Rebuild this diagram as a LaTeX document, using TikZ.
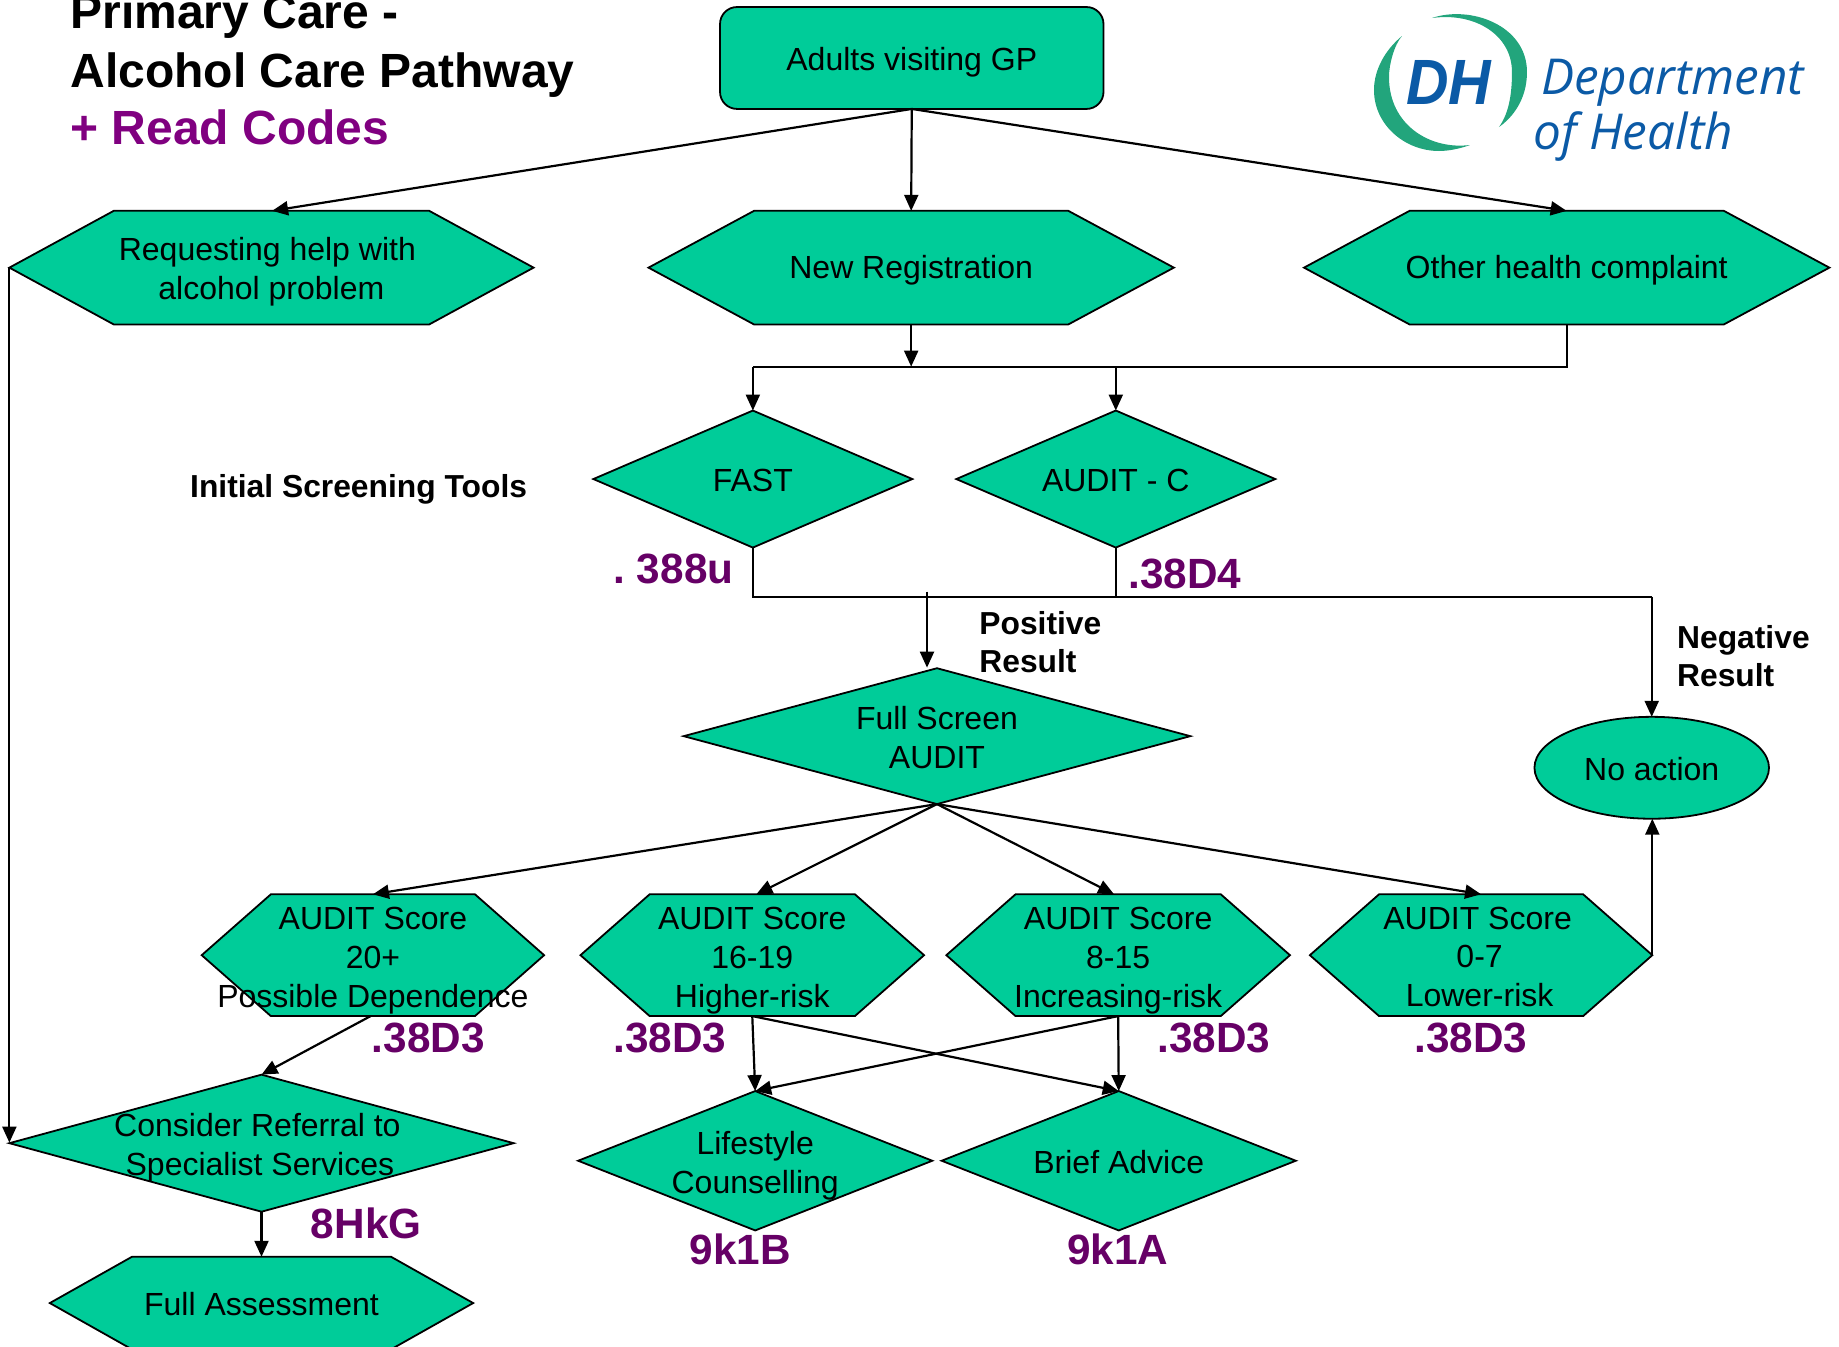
\documentclass[tikz,border=0pt]{standalone}
\usepackage{fontspec}
\setmainfont{Liberation Sans}
\newfontfamily\logofont{Open Sans}
\usetikzlibrary{arrows.meta}
\definecolor{flowgreen}{HTML}{00CC99}
\definecolor{titlepurple}{HTML}{800080}
\definecolor{codepurple}{HTML}{660066}
\definecolor{logogreen}{HTML}{22A57C}
\definecolor{logoblue}{HTML}{0B5AA6}
\tikzset{
  shapeline/.style={draw=black,line width=1.8pt,fill=flowgreen,line join=miter},
  flowtext/.style={font=\fontsize{32}{38.7}\selectfont,align=center,inner sep=0pt},
  boldlabel/.style={font=\fontsize{31.8}{38.7}\selectfont\bfseries,align=left,inner sep=0pt,anchor=base west},
  titletext/.style={font=\fontsize{48}{57}\selectfont\bfseries,inner sep=0pt,anchor=base west},
  codetext/.style={font=\fontsize{42.3}{50}\selectfont\bfseries,text=codepurple,inner sep=0pt,anchor=base west},
  conn/.style={draw=black,line width=2.2pt},
  arrowconn/.style={conn,-{Triangle[length=16pt,width=14pt]}},
}
% name, cx, cy, half width, half height, inset
\newcommand{\hexbox}[6]{%
  \draw[shapeline] ({#2-#4},#3) -- ({#2-#4+#6},{#3-#5}) -- ({#2+#4-#6},{#3-#5}) -- ({#2+#4},#3) -- ({#2+#4-#6},{#3+#5}) -- ({#2-#4+#6},{#3+#5}) -- cycle;
  \coordinate (#1-t) at (#2,{#3-#5});
  \coordinate (#1-b) at (#2,{#3+#5});
  \coordinate (#1-l) at ({#2-#4},#3);
  \coordinate (#1-r) at ({#2+#4},#3);
}
% name, cx, cy, half width, half height
\newcommand{\diabox}[5]{%
  \draw[shapeline] ({#2-#4},#3) -- (#2,{#3-#5}) -- ({#2+#4},#3) -- (#2,{#3+#5}) -- cycle;
  \coordinate (#1-t) at (#2,{#3-#5});
  \coordinate (#1-b) at (#2,{#3+#5});
  \coordinate (#1-l) at ({#2-#4},#3);
  \coordinate (#1-r) at ({#2+#4},#3);
}
\begin{document}
\begin{tikzpicture}[x=1.1727pt,y=-1.1713pt]
\useasboundingbox (0,0) rectangle (1568.2,1150);

% title
\node[titletext] (t1) at (60,24) {Primary Care -};
\node[titletext] (t2) at (60,74.5) {Alcohol Care Pathway};
\node[titletext,text=titlepurple] (t3) at (60,123) {+ Read Codes};

% logo
\begin{scope}[x=1pt,y=-1pt]
\fill[logogreen] (1432,18) .. controls (1470,5) and (1527,25) .. (1527,72) .. controls (1527,100) and (1512,118) .. (1499,127) .. controls (1510,112) and (1512,90) .. (1512,72) .. controls (1512,35) and (1475,12) .. (1432,18) -- cycle;
\fill[logogreen] (1402,36) .. controls (1385,50) and (1374,70) .. (1374,90) .. controls (1374,125) and (1405,151) .. (1439,151) .. controls (1450,151) and (1462,148) .. (1470,145) .. controls (1430,150) and (1389,125) .. (1389,77) .. controls (1389,65) and (1394,45) .. (1402,36) -- cycle;
\node[inner sep=0pt,anchor=base west,text=logoblue,font=\fontsize{64}{64}\selectfont\bfseries\itshape,xscale=.92] (dh) at (1406,104) {DH};
\node[inner sep=0pt,anchor=base west,text=logoblue,font=\fontsize{49.5}{50}\selectfont\logofont\itshape] (dep) at (1541,94) {Department};
\node[inner sep=0pt,anchor=base west,text=logoblue,font=\fontsize{49.5}{50}\selectfont\logofont\itshape] (ofh) at (1533,149) {of Health};
\end{scope}

% shapes
\draw[shapeline,rounded corners=17pt] (614,6) rectangle (941,93);
\coordinate (gp-t) at (777.5,6);
\coordinate (gp-b) at (777.5,93);
\node[flowtext] (gp) at (777.5,53) {Adults visiting GP};

\hexbox{h1}{231.5}{228.5}{223.5}{48.5}{89}
\hexbox{h2}{777}{228.5}{224}{48.5}{90}
\hexbox{h3}{1336}{228.5}{224}{48.5}{90}
\node[flowtext] (h1txt) at (228,232) {Requesting help with\\\hspace*{8pt}alcohol problem};
\node[flowtext] (h2txt) at (777,231) {New Registration};
\node[flowtext] (h3txt) at (1336,231) {Other health complaint};

\diabox{fast}{642}{409}{136}{58.5}
\diabox{ac}{951.5}{409}{136}{58.5}
\node[flowtext] (fasttxt) at (642,410) {FAST};
\node[flowtext] (actxt) at (951.5,410) {AUDIT - C};

\diabox{fs}{799}{628.5}{216}{58}
\node[flowtext] (fstxt) at (799,629.5) {Full Screen\\AUDIT};

\draw[shapeline] (1408.5,655.5) ellipse [x radius=100,y radius=43.5];
\coordinate (na-t) at (1408.5,612);
\coordinate (na-b) at (1408.5,699);
\node[flowtext] (natxt) at (1408.5,657) {No action};

\hexbox{sa}{318}{815.5}{146}{52}{59}
\hexbox{sb}{641.5}{815.5}{146.5}{52}{59}
\hexbox{sc}{953.5}{815.5}{146.5}{52}{59}
\hexbox{sd}{1263}{815.5}{146}{52}{59}
\node[flowtext] (satxt) at (318,820) {AUDIT Score\\20+\\Possible Dependence};
\node[flowtext] (sbtxt) at (641.5,820) {AUDIT Score\\16-19\\Higher-risk};
\node[flowtext] (sctxt) at (953.5,820) {AUDIT Score\\8-15\\Increasing-risk};
\node[flowtext] (sdtxt) at (1260,817) {AUDIT Score\\\hspace*{4pt}0-7\\\hspace*{4pt}Lower-risk};

\diabox{cr}{223}{976}{215}{58.5}
\node[flowtext] (crtxt) at (219.5,980) {Consider Referral to\\\hspace*{5pt}Specialist Services};

\diabox{ls}{644}{991}{151}{59.5}
\diabox{ba}{954}{991}{151}{59.5}
\node[flowtext] (lstxt) at (644,995) {Lifestyle\\Counselling};
\node[flowtext] (batxt) at (954,992) {Brief Advice};

\hexbox{fa}{223}{1112.5}{180.5}{39.5}{70}
\node[flowtext] (fatxt) at (223,1113) {Full Assessment};

% labels
\node[boldlabel] (ist) at (162,424.5) {Initial Screening Tools};
\node[boldlabel] (pos) at (835,574.5) {Positive\\Result};
\node[boldlabel] (neg) at (1430,586.5) {Negative\\Result};

% read codes
\node[codetext] (c388) at (523,498) {.\kern0pt\ 388u};
\node[codetext] (c38d4) at (962,502.5) {.38D4};
\node[codetext] (c1) at (317,898.5) {.38D3};
\node[codetext] (c2) at (523,898.5) {.38D3};
\node[codetext] (c3) at (987,898.5) {.38D3};
\node[codetext] (c4) at (1206,898.5) {.38D3};
\node[codetext] (c8) at (265,1057) {8HkG};
\node[codetext] (c9b) at (588,1079.5) {9k1B};
\node[codetext] (c9a) at (910,1079.5) {9k1A};

% connectors
\coordinate (j1) at (777,313);
\coordinate (jfast) at (642,313.4);
\coordinate (jac) at (951.5,313.4);
\coordinate (j3) at (1336,313.4);
\coordinate (jb1) at (642,509.4);
\coordinate (jb2) at (951.5,509.4);
\coordinate (jb3) at (1408.5,509.4);
\coordinate (jpos) at (790.5,505);
\coordinate (jposend) at (790.5,570);
\coordinate (h1top) at (232,180);
\coordinate (crl) at (8,975.5);

\draw[arrowconn] (gp-b) -- (h1top);
\draw[arrowconn] (gp-b) -- (h2-t);
\draw[arrowconn] (gp-b) -- (h3-t);
\draw[arrowconn] (h2-b) -- (j1);
\draw[conn] (jfast) -- (j3) -- (h3-b);
\draw[arrowconn] (jfast) -- (fast-t);
\draw[arrowconn] (jac) -- (ac-t);
\draw[conn] (fast-b) -- (jb1) -- (jb3);
\draw[conn] (ac-b) -- (jb2);
\draw[arrowconn] (jb3) -- (na-t);
\draw[arrowconn] (jpos) -- (jposend);
\draw[arrowconn] (fs-b) -- (sa-t);
\draw[arrowconn] (fs-b) -- (645,763.5);
\draw[arrowconn] (fs-b) -- (950,763.5);
\draw[arrowconn] (fs-b) -- (sd-t);
\draw[arrowconn] (sd-r) -- (1409,699);
\draw[arrowconn] (316,867.5) -- (cr-t);
\draw[arrowconn] (h1-l) -- (crl);
\draw[arrowconn] (cr-b) -- (fa-t);
\draw[arrowconn] (sb-b) -- (ls-t);
\draw[arrowconn] (sb-b) -- (ba-t);
\draw[arrowconn] (sc-b) -- (ba-t);
\draw[arrowconn] (sc-b) -- (ls-t);
\end{tikzpicture}
\end{document}
